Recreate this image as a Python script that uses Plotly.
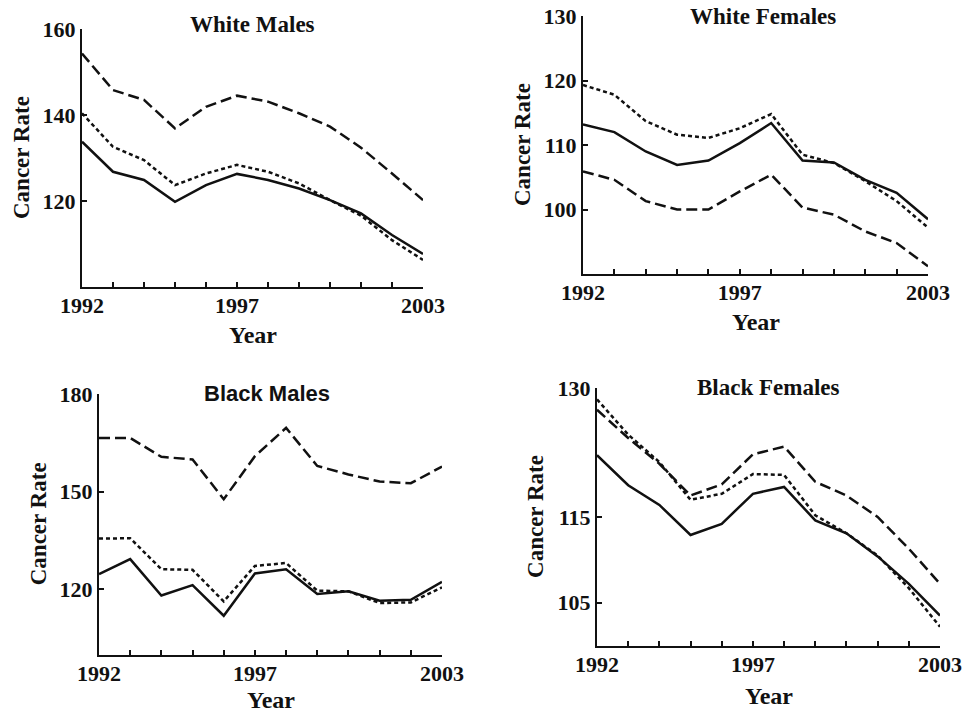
import plotly.graph_objects as go

years = list(range(1992, 2004))

# White Males
wm_solid = [133.8, 126.8, 124.9, 119.8, 123.7, 126.3, 124.9, 122.9, 120.2, 117.1, 112.1, 107.7]
wm_dotted = [140.4, 132.6, 129.5, 123.7, 126.4, 128.4, 126.8, 124.1, 120.2, 116.6, 110.9, 106.3]
wm_dashed = [154.3, 145.8, 143.5, 136.9, 141.9, 144.5, 143.1, 140.4, 137.3, 132.4, 126.4, 120.2]

# White Females
wf_solid = [113.2, 112.0, 109.0, 106.9, 107.6, 110.3, 113.4, 107.6, 107.3, 104.6, 102.6, 98.5]
wf_dotted = [119.3, 117.8, 113.7, 111.6, 111.1, 112.6, 114.8, 108.5, 107.2, 104.4, 101.3, 97.2]
wf_dashed = [105.9, 104.6, 101.3, 100.0, 100.0, 102.8, 105.4, 100.3, 99.2, 96.6, 94.8, 91.2]

# Black Males
bm_solid = [124.7, 129.3, 118.1, 121.3, 111.9, 124.9, 126.2, 118.6, 119.4, 116.5, 116.8, 122.3]
bm_dotted = [135.6, 135.7, 126.2, 126.0, 116.3, 127.2, 128.1, 119.6, 119.4, 115.8, 116.0, 120.6]
bm_dashed = [166.5, 166.5, 160.7, 159.9, 147.7, 160.9, 169.6, 157.9, 155.3, 153.1, 152.6, 157.7]

# Black Females
bf_solid = [122.2, 118.7, 116.4, 112.9, 114.2, 117.7, 118.5, 114.6, 113.1, 110.4, 107.2, 103.5]
bf_dotted = [128.7, 124.6, 121.4, 117.0, 117.7, 120.0, 119.9, 115.2, 113.1, 110.5, 106.7, 102.2]
bf_dashed = [127.5, 124.2, 121.2, 117.5, 118.8, 122.3, 123.2, 119.1, 117.5, 115.0, 111.3, 107.2]

panel_titles = ["White Males", "White Females", "Black Males", "Black Females"]
x_tickvals = [1992, 1997, 2003]
y_tickvals = [[120, 140, 160], [100, 110, 120, 130], [120, 150, 180], [105, 115, 130]]
y_ranges = [[100, 160], [90, 130], [100, 180], [100, 130]]

W, H = 964, 711
# pixel boxes in page coordinates: left, right, top, bottom
boxes = [(82, 423, 29, 287), (583, 928, 16, 274), (99, 442, 394, 654.5), (597, 940, 388.3, 645.6)]
title_pos = [(252, 24), (763, 16), (267, 393), (768, 387)]
year_gap = [48, 48, 45, 50]
title_fonts = ["Liberation Serif", "Liberation Serif", "Liberation Sans", "Liberation Serif"]

series = [
    (wm_solid, wm_dotted, wm_dashed),
    (wf_solid, wf_dotted, wf_dashed),
    (bm_solid, bm_dotted, bm_dashed),
    (bf_solid, bf_dotted, bf_dashed),
]


def px_x(p):
    return p / W


def px_y(p):
    return 1 - p / H


fig = go.Figure()
serif = "Liberation Serif, Times New Roman, serif"
styles = ["solid", "4px,3px", "11px,5px"]
ink = "#111111"
annotations = []

for i, (sol, dot, dsh) in enumerate(series):
    ax = "" if i == 0 else str(i + 1)
    for vals, st in zip((sol, dot, dsh), styles):
        fig.add_trace(go.Scatter(x=years, y=vals, mode="lines",
                                 line=dict(color=ink, width=2.5, dash=st),
                                 xaxis="x" + ax, yaxis="y" + ax, showlegend=False))
    l, r, t, b = boxes[i]
    xd = [px_x(l), px_x(r)]
    yd = [px_y(b), px_y(t)]
    fig.update_layout(**{
        "xaxis" + ax: dict(domain=xd, range=[1992, 2003], anchor="y" + ax, automargin=False,
                           tickvals=x_tickvals, ticks="inside", ticklen=5, tickwidth=1.5,
                           tickcolor=ink, ticklabelstandoff=-2,
                           showline=True, linecolor=ink, linewidth=2,
                           showgrid=False, zeroline=False,
                           tickfont=dict(family=serif, size=22, color=ink, weight="bold"),
                           minor=dict(tick0=1992, dtick=1, ticks="inside", ticklen=5,
                                      tickwidth=1.5, tickcolor=ink, showgrid=False)),
        "yaxis" + ax: dict(domain=yd, range=y_ranges[i], anchor="x" + ax, automargin=False,
                           tickvals=y_tickvals[i], ticks="inside", ticklen=5, tickwidth=1.5,
                           tickcolor=ink,
                           showline=True, linecolor=ink, linewidth=2,
                           showgrid=False, zeroline=False,
                           tickfont=dict(family=serif, size=22, color=ink, weight="bold")),
    })
    tx, ty = title_pos[i]
    annotations.append(dict(text="<b>%s</b>" % panel_titles[i], x=px_x(tx), y=px_y(ty),
                            xref="paper", yref="paper", showarrow=False,
                            xanchor="center", yanchor="middle",
                            font=dict(family=title_fonts[i], size=23 if i != 2 else 22,
                                      color=ink)))
    annotations.append(dict(text="<b>Year</b>", x=px_x((l + r) / 2), y=px_y(b + year_gap[i]),
                            xref="paper", yref="paper", showarrow=False,
                            xanchor="center", yanchor="middle",
                            font=dict(family=serif, size=24, color=ink)))
    annotations.append(dict(text="<b>Cancer Rate</b>", x=px_x(l - 61), y=px_y((t + b) / 2),
                            xref="paper", yref="paper", showarrow=False, textangle=-90,
                            xanchor="center", yanchor="middle",
                            font=dict(family=serif, size=23, color=ink)))

fig.update_layout(width=W, height=H, margin=dict(l=0, r=0, t=0, b=0, autoexpand=False),
                  paper_bgcolor="white", plot_bgcolor="white",
                  annotations=annotations)

fig.write_html("out.html",
               config={"displayModeBar": False},
               post_script="document.body.style.margin='0';"
                           "document.body.style.overflow='hidden';")
